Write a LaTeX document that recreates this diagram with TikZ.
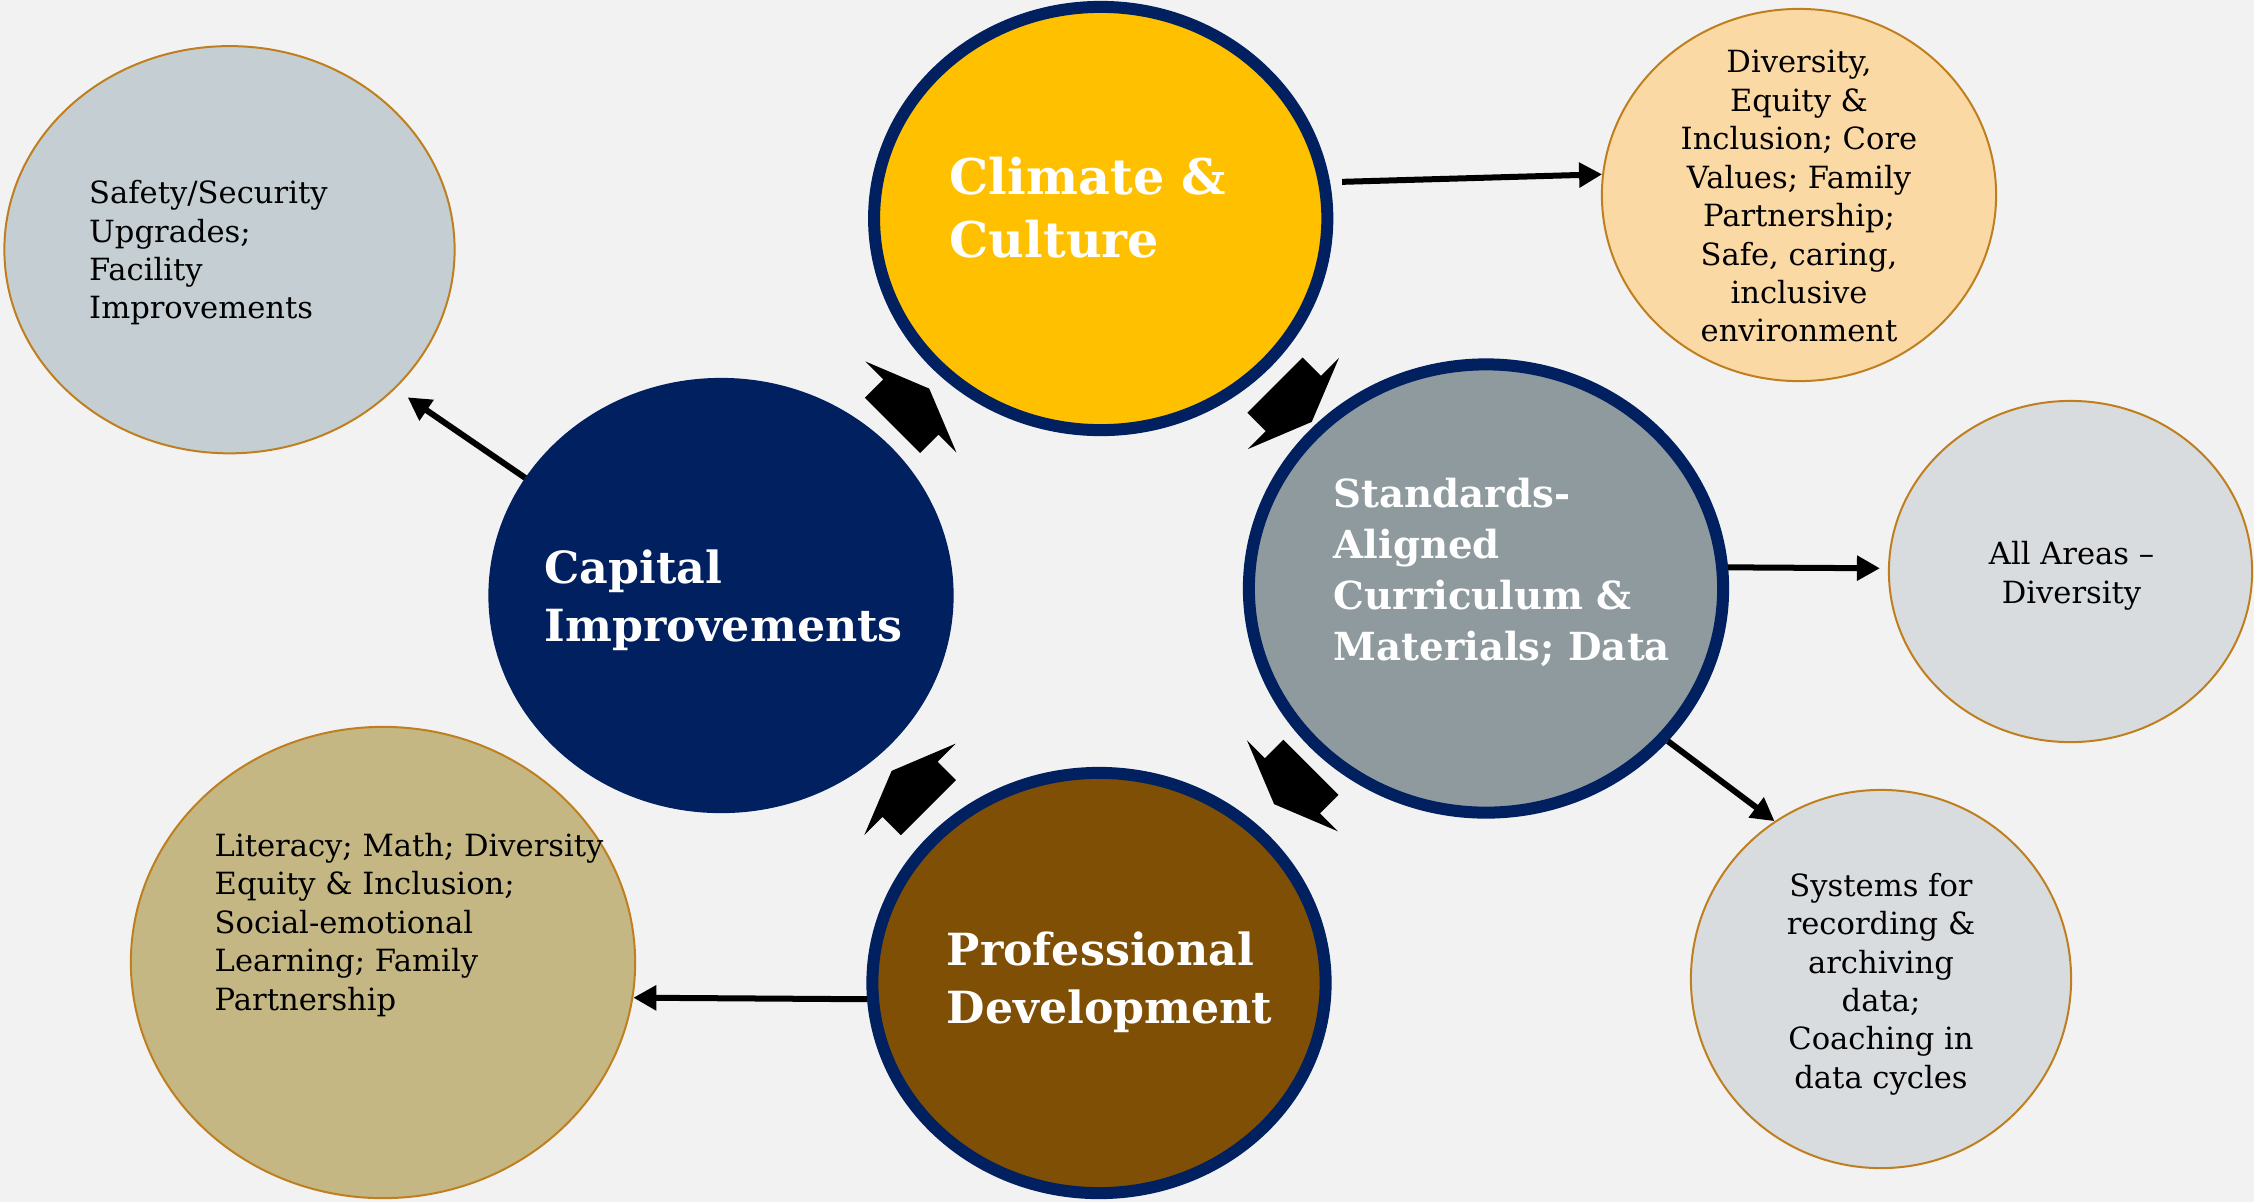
\documentclass[tikz,border=0pt]{standalone}
\usepackage{fontspec}
\setmainfont{DejaVu Serif}
\usetikzlibrary{shapes, calc, arrows.meta, positioning}

\definecolor{bgray}{HTML}{F2F2F2}
\definecolor{navy}{HTML}{002060}
\definecolor{gold}{HTML}{FFC000}
\definecolor{slate}{HTML}{8F9A9E}
\definecolor{pdbrown}{HTML}{7F4F06}
\definecolor{rim}{HTML}{BF7F1F}
\definecolor{steelfill}{HTML}{C5CFD3}
\definecolor{peach}{HTML}{FBD9A5}
\definecolor{mist}{HTML}{D9DCDF}
\definecolor{khaki}{HTML}{C4B783}

\tikzset{cyclearrow/.pic={\fill (26,0) -- (0,64.5) -- (0,39) -- (-26,39) -- (-26,-39) -- (0,-39) -- (0,-64.5) -- cycle;}}

\begin{document}
\begin{tikzpicture}[x=0.01cm, y=-0.01cm, >={Triangle[length=0.23cm, width=0.24cm]},
  hub/.style={ellipse, draw=navy, line width=0.12cm, minimum width=4.53cm, minimum height=4.23cm, inner sep=0pt},
  leaf/.style={ellipse, draw=rim, line width=0.02cm, inner sep=0pt},
  title/.style={inner sep=0pt, align=left, text=white, font=\bfseries\fontsize{12.6}{16.3}\selectfont},
  note/.style={inner sep=0pt, font=\fontsize{8.7}{10.93}\selectfont},
  link/.style={->, line width=0.06cm}]
\useasboundingbox (0,0) rectangle (2254,1202);
\fill[bgray] (0,0) rectangle (2254,1202);

\node[hub, fill=gold] (climate) at (1100.7,218.5) {};
\node[hub, fill=navy] (capital) at (721,595.5) {};
\node[hub, fill=slate, minimum width=4.74cm, minimum height=4.48cm] (standards) at (1486,588.5) {};
\node[hub, fill=pdbrown, minimum height=4.2cm] (prof) at (1099,983) {};

\node[title, anchor=north west, font=\bfseries\fontsize{14}{17.9}\selectfont] at ([shift={(-151.7,-61.9)}]climate) {Climate \&\\Culture};
\node[title, anchor=north west] at ([shift={(-177,-46)}]capital) {Capital\\Improvements};
\node[title, anchor=north west, font=\bfseries\fontsize{11}{14.5}\selectfont] at ([shift={(-153,-111)}]standards) {Standards-\\Aligned\\Curriculum \&\\Materials; Data};
\node[title, anchor=north west] at ([shift={(-153,-51.6)}]prof) {Professional\\Development};

\node[leaf, fill=steelfill, minimum width=4.5cm, minimum height=4.07cm] (safety) at (229.5,249.7) {};
\node[leaf, fill=peach, minimum width=3.94cm, minimum height=3.72cm] (diversity) at (1799,195) {};
\node[leaf, fill=mist, minimum width=3.63cm, minimum height=3.41cm] (allareas) at (2070.5,571.5) {};
\node[leaf, fill=mist, minimum width=3.8cm, minimum height=3.78cm] (systems) at (1881,979) {};
\node[leaf, fill=khaki, minimum width=5.04cm, minimum height=4.71cm] (literacy) at (383,962.5) {};

\node[note, align=left, anchor=north west] at ([shift={(-141,-70)}]safety) {Safety/Security\\Upgrades;\\Facility\\Improvements};
\node[note, align=center, anchor=north] at ([shift={(0,-145.4)}]diversity) {Diversity,\\Equity \&\\Inclusion; Core\\Values; Family\\Partnership;\\Safe, caring,\\inclusive\\environment};
\node[note, align=center, anchor=north] at ([shift={(1,-30.5)}]allareas) {All Areas –\\Diversity};
\node[note, align=center, anchor=north] at ([shift={(0,-106.8)}]systems) {Systems for\\recording \&\\archiving\\data;\\Coaching in\\data cycles};
\node[note, align=left, anchor=north west] at ([shift={(-169,-130)}]literacy) {Literacy; Math; Diversity\\Equity \& Inclusion;\\Social-emotional\\Learning; Family\\Partnership};

\draw[link, shorten <=0.12cm] (climate.9) -- (diversity.174);
\draw[link, shorten >=0.08cm] (standards.5) -- (allareas.179);
\draw[link] (standards.-40) -- (systems.124);
\draw[link] (prof.-176) -- (literacy.-8);
\draw[link, shorten >=0.15cm] (capital.149) -- (safety.-40);

\pic[rotate=45] at ($(capital)!0.5!(climate)$) {cyclearrow};
\pic[rotate=-45] at ($(climate)!0.5!(standards)$) {cyclearrow};
\pic[rotate=-135] at ($(standards)!0.5!(prof)$) {cyclearrow};
\pic[rotate=135] at ($(prof)!0.5!(capital)$) {cyclearrow};
\end{tikzpicture}
\end{document}
